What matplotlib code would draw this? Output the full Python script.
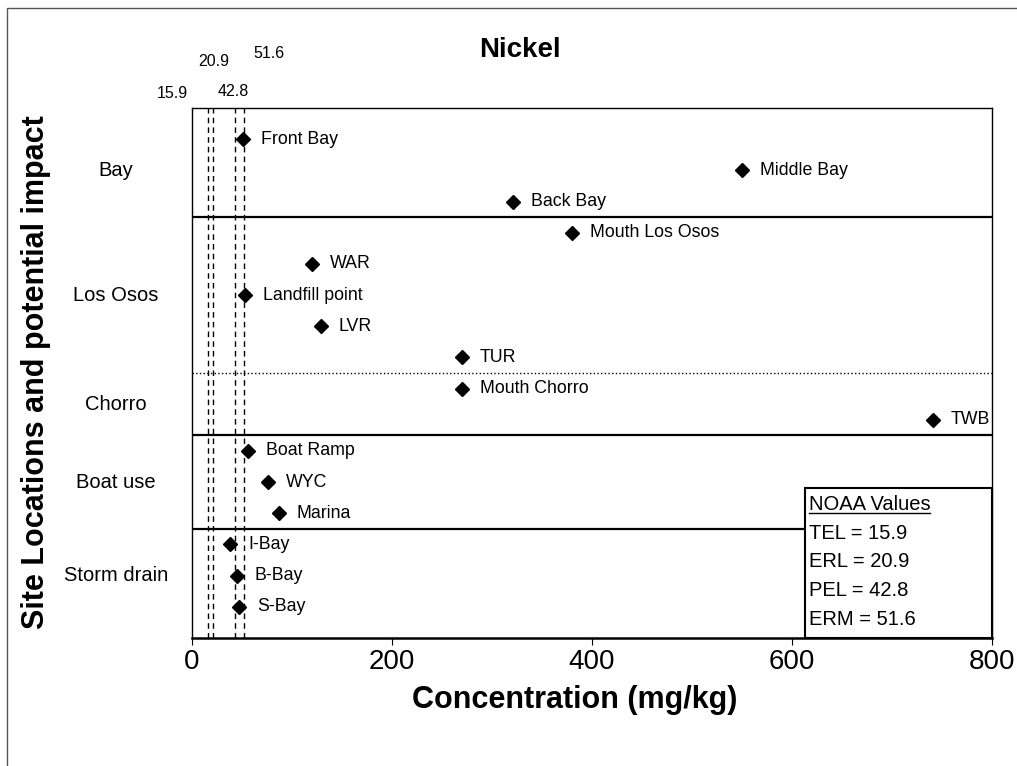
import matplotlib
matplotlib.use("Agg")
import matplotlib.pyplot as plt
import matplotlib.transforms as mtransforms
from matplotlib.patches import Rectangle

plt.rcParams['font.family'] = ['Liberation Sans', 'DejaVu Sans']

# Messstellen (von oben nach unten) und Nickel-Konzentration in mg/kg
sites = ["Front Bay", "Middle Bay", "Back Bay", "Mouth Los Osos", "WAR",
         "Landfill point", "LVR", "TUR", "Mouth Chorro", "TWB", "Boat Ramp",
         "WYC", "Marina", "I-Bay", "B-Bay", "S-Bay"]
nickel = [51, 550, 321, 380, 120, 53, 129, 270, 270, 741, 56, 76, 87, 38, 45, 47]

# Gruppen: Name, erste Zeile, letzte Zeile (1-basiert)
groups = ["Bay", "Los Osos", "Chorro", "Boat use", "Storm drain"]
group_first = [1, 4, 9, 11, 14]
group_last = [3, 8, 10, 13, 16]

# NOAA Grenzwerte
noaa_names = ["TEL", "ERL", "PEL", "ERM"]
noaa_values = [15.9, 20.9, 42.8, 51.6]
# Versatz der Zahlen oberhalb des Diagramms (Pixel)
noaa_label_dx = [-36, 1, -2, 25]
noaa_label_dy = [15, 46, 16, 54]

x_ticks = [0, 200, 400, 600, 800]

fig = plt.figure(figsize=(10.17, 7.66), dpi=100)
ax = fig.add_axes([192 / 1017, 1 - 638 / 766, 800 / 1017, 530 / 766])

rows = list(range(1, len(sites) + 1))
ax.plot(nickel, rows, linestyle="none", marker="D", markersize=7,
        color="black", zorder=3)
for name, val, r in zip(sites, nickel, rows):
    ax.annotate(name, (val, r), xytext=(18, 0), textcoords="offset pixels",
                ha="left", va="center", fontsize=12.8)

# Grenzwert-Linien
for v in noaa_values:
    ax.axvline(v, color="black", linestyle=(0, (4, 3)), linewidth=1, zorder=1)

trans_top = mtransforms.blended_transform_factory(ax.transData, ax.transAxes)
for v, dx, dy in zip(noaa_values, noaa_label_dx, noaa_label_dy):
    ax.annotate(f"{v}", (v, 1), xycoords=trans_top, xytext=(dx, dy),
                textcoords="offset pixels", ha="center", va="center",
                fontsize=11.5, annotation_clip=False)

# Trennlinien zwischen den Gruppen
for i in range(len(groups) - 1):
    y_sep = group_last[i] + 0.5
    ls = ":" if groups[i] == "Los Osos" else "-"
    lw = 1 if ls == ":" else 1.6
    ax.axhline(y_sep, color="black", linestyle=ls, linewidth=lw)

trans_left = mtransforms.blended_transform_factory(ax.transAxes, ax.transData)
for g, a, b in zip(groups, group_first, group_last):
    ax.annotate(g, (0, (a + b) / 2), xycoords=trans_left, xytext=(-76, 0),
                textcoords="offset pixels", ha="center", va="center",
                fontsize=14.5, annotation_clip=False)

ax.set_xlim(0, 800)
ax.set_ylim(len(sites) + 1, 0)
ax.set_xticks(x_ticks)
ax.set_xticklabels([str(t) for t in x_ticks], fontsize=20)
ax.set_yticks([])
ax.tick_params(axis="x", direction="out", length=5, pad=3)
for s in ax.spines.values():
    s.set_linewidth(1)
ax.spines["bottom"].set_linewidth(1.8)

fig.text(575 / 1017, 1 - 708 / 766, "Concentration (mg/kg)", ha="center",
         va="baseline", fontsize=22, fontweight="bold")
fig.text(36 / 1017, 1 - 372 / 766, "Site Locations and potential impact",
         rotation=90, ha="center", va="center", fontsize=22, fontweight="bold")
fig.text(520 / 1017, 1 - 50 / 766, "Nickel", ha="center", va="center",
         fontsize=20, fontweight="bold")

# NOAA Legendenkasten
box = Rectangle((0.766, 0.0), 0.234, 0.283, transform=ax.transAxes,
                facecolor="white", edgecolor="black", linewidth=1.5,
                zorder=4, clip_on=False)
ax.add_patch(box)
legend_lines = ["NOAA Values"] + [f"{n} = {v}" for n, v in zip(noaa_names, noaa_values)]
texts = []
for i, line in enumerate(legend_lines):
    t = ax.text(0.771, 0.251 - i * 0.0538, line, transform=ax.transAxes,
                ha="left", va="center", fontsize=14.5, zorder=5)
    texts.append(t)

# Unterstreichung von "NOAA Values"
fig.canvas.draw()
bb = texts[0].get_window_extent().transformed(fig.transFigure.inverted())
fig.add_artist(plt.Line2D([bb.x0, bb.x1], [bb.y0 + 0.002, bb.y0 + 0.002],
                          transform=fig.transFigure, color="black", linewidth=1))

# Rahmen um die ganze Grafik
fig.add_artist(Rectangle((7 / 1017, -0.01), 1.0, 1 - 8 / 766 + 0.01,
                         transform=fig.transFigure, fill=False,
                         edgecolor="#555555", linewidth=1))

fig.savefig("out.png", dpi=100)
